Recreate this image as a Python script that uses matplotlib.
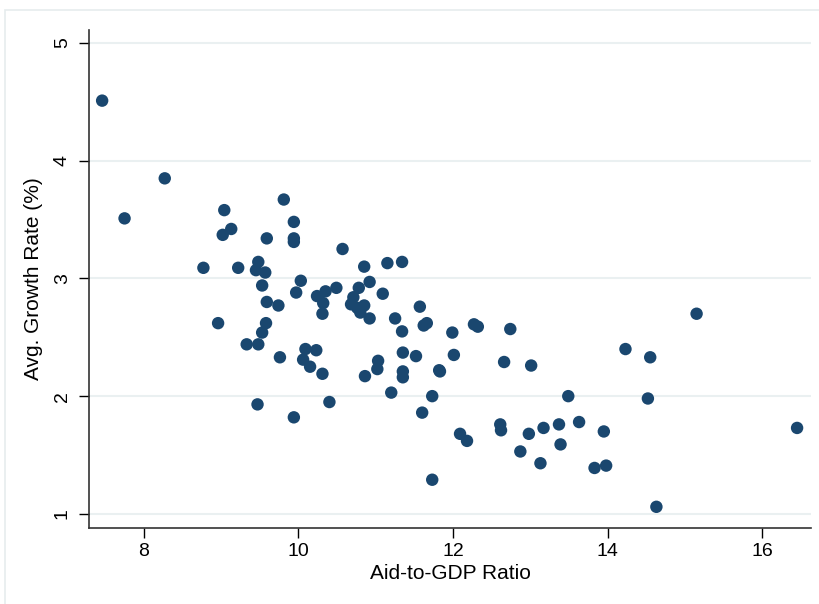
import matplotlib.pyplot as plt
from matplotlib.patches import Rectangle

# aid-to-GDP ratio vs average growth rate
aid_ratio = [7.46, 7.75, 8.27, 8.77, 8.96, 9.04, 9.02, 9.13, 9.22, 9.33,
             9.48, 9.47, 9.48, 9.45, 9.57, 9.53, 9.53, 9.58, 9.59, 9.59,
             9.74, 9.76, 9.81, 9.94, 9.94, 9.94, 9.94, 9.97, 10.03, 10.09,
             10.23, 10.06, 10.15, 10.24, 10.31, 10.32, 10.31, 10.35, 10.40, 10.49,
             10.57, 10.71, 10.68, 10.76, 10.85, 10.80, 10.92, 10.78, 10.85, 10.86,
             10.92, 11.03, 11.02, 11.09, 11.15, 11.20, 11.25, 11.34, 11.34, 11.35,
             11.35, 11.35, 11.52, 11.57, 11.62, 11.66, 11.60, 11.73, 11.73, 11.82,
             11.83, 11.99, 12.01, 12.09, 12.18, 12.27, 12.32, 12.61, 12.62, 12.66,
             12.74, 12.87, 12.98, 13.01, 13.13, 13.17, 13.37, 13.39, 13.49, 13.63,
             13.83, 13.98, 13.95, 14.23, 14.52, 14.55, 14.63, 15.15, 16.45]
growth = [4.51, 3.51, 3.85, 3.09, 2.62, 3.58, 3.37, 3.42, 3.09, 2.44,
          2.44, 1.93, 3.14, 3.07, 3.05, 2.94, 2.54, 2.62, 3.34, 2.80,
          2.77, 2.33, 3.67, 3.48, 3.34, 3.31, 1.82, 2.88, 2.98, 2.40,
          2.39, 2.31, 2.25, 2.85, 2.19, 2.79, 2.70, 2.89, 1.95, 2.92,
          3.25, 2.84, 2.78, 2.75, 2.77, 2.71, 2.66, 2.92, 3.10, 2.17,
          2.97, 2.30, 2.23, 2.87, 3.13, 2.03, 2.66, 3.14, 2.55, 2.37,
          2.21, 2.16, 2.34, 2.76, 2.60, 2.62, 1.86, 2.00, 1.29, 2.22,
          2.21, 2.54, 2.35, 1.68, 1.62, 2.61, 2.59, 1.76, 1.71, 2.29,
          2.57, 1.53, 1.68, 2.26, 1.43, 1.73, 1.76, 1.59, 2.00, 1.78,
          1.39, 1.41, 1.70, 2.40, 1.98, 2.33, 1.06, 2.70, 1.73]
x_ticks = [8, 10, 12, 14, 16]
y_ticks = [1, 2, 3, 4, 5]

navy = "#1a476f"
plt.rcParams['font.family'] = ['Liberation Sans Narrow', 'Liberation Sans', 'DejaVu Sans']

fig = plt.figure(figsize=(8.2, 6.04), dpi=100)
fig.patches.append(Rectangle((5 / 820, -0.05), 1.0, 1.05 - 10 / 604,
                             transform=fig.transFigure, fill=False,
                             edgecolor="#e6eced", lw=1.2))
ax = fig.add_axes([89 / 820, 1 - 528 / 604, (811 - 89) / 820, (528 - 30) / 604])

for y in y_ticks:
    ax.axhline(y, color="#eaf0f1", lw=1.5, zorder=0)
ax.scatter(aid_ratio, growth, s=80, color=navy, edgecolors="none", zorder=3)

ax.set_xlim(7.29, 16.63)
ax.set_ylim(0.88, 5.11)
ax.set_xticks(x_ticks)
ax.set_yticks(y_ticks)
ax.set_yticklabels([str(v) for v in y_ticks], rotation=90, va="center")
ax.tick_params(axis="both", direction="out", length=7, width=1, labelsize=14, colors="black")
ax.tick_params(axis="y", pad=6)

for side in ["top", "right"]:
    ax.spines[side].set_visible(False)
for side in ["left", "bottom"]:
    ax.spines[side].set_color("#333333")
    ax.spines[side].set_linewidth(1.2)

ax.set_xlabel("Aid-to-GDP Ratio", fontsize=15, labelpad=3)
ax.set_ylabel("Avg. Growth Rate (%)", fontsize=15, labelpad=8)

fig.savefig("out.png", dpi=100)
